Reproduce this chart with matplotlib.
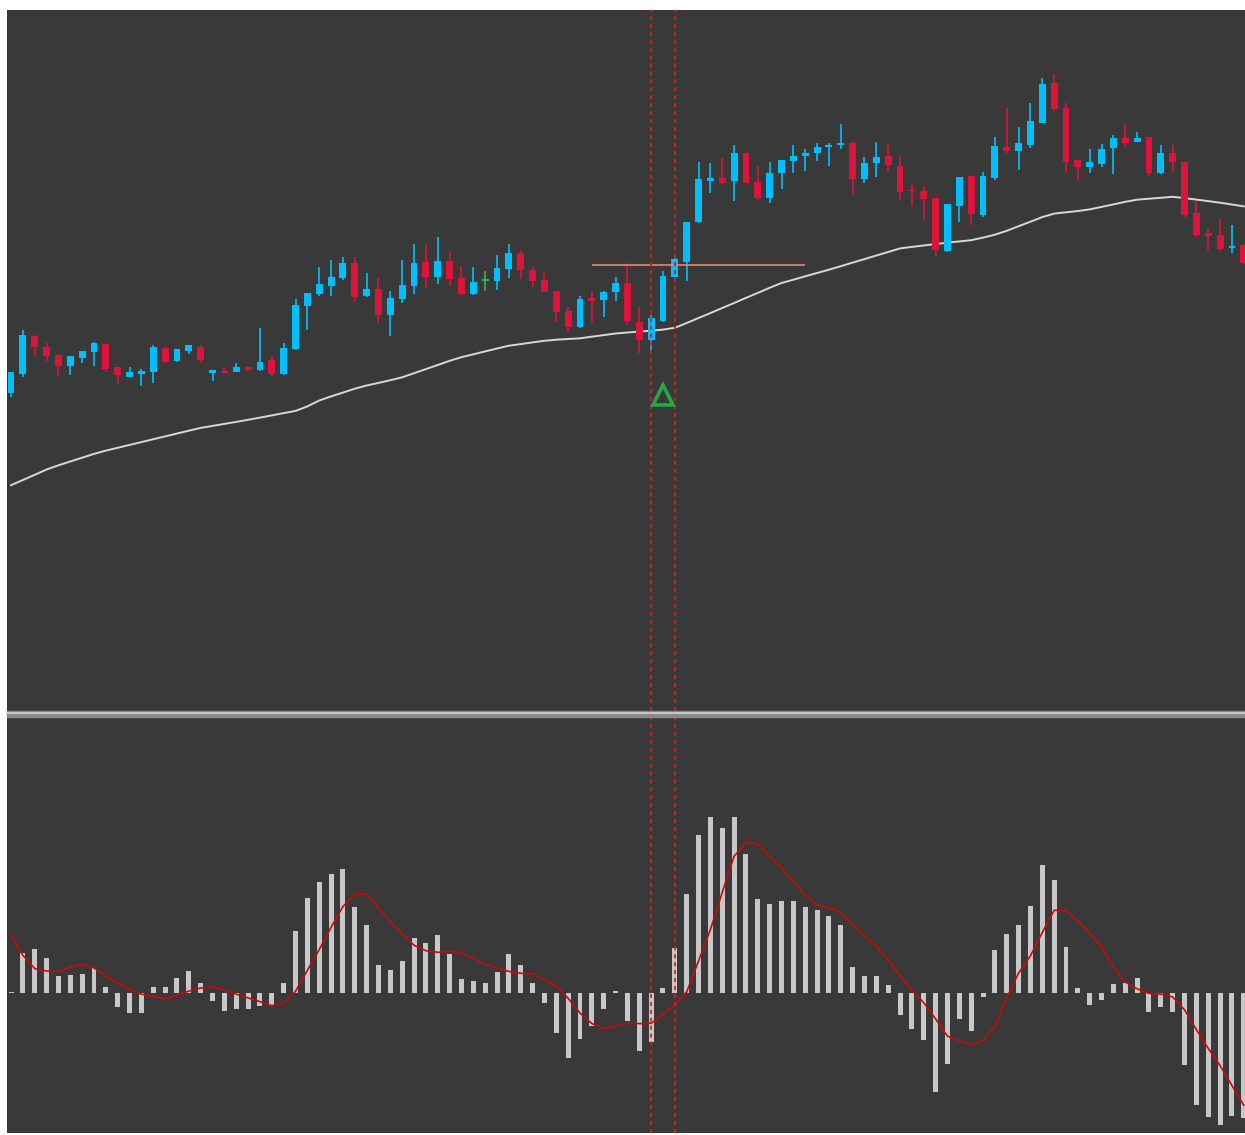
import matplotlib
matplotlib.use('Agg')
import matplotlib.pyplot as plt
from matplotlib.patches import Rectangle
from matplotlib.lines import Line2D
import numpy as np

# price panel (arbitrary price units)
opens = [327.3, 346, 384.3, 373.3, 365, 354.3, 361.7, 367.7, 376, 352.7,
         343.3, 346, 347.7, 372.3, 359.3, 369, 373.3, 346.7, 349.3, 348.3,
         352.7, 350, 360, 346, 370.7, 414, 426, 434.3, 441.7, 456.7,
         424, 431, 405, 420.7, 434.3, 458.3, 443.3, 459.3, 441.7, 425.7,
         439.3, 439, 451, 467.3, 450, 440, 429.3, 409, 392.7, 422.3,
         420, 428.3, 437.3, 398.3, 380, 399, 443.3, 458.3, 498, 539.3,
         542.3, 539, 567.3, 538.3, 522.3, 546.7, 559.3, 564, 566.7, 573.3,
         575.3, 576.7, 540.7, 556.7, 564.3, 554.3, 529.7, 529, 521.7, 469.3,
         514.3, 544, 505, 541.7, 573.3, 569.3, 575, 597.3, 636.7, 612.3,
         560, 553.3, 556, 571.7, 582.3, 578.3, 582.7, 546.7, 567.3, 558.3,
         506.7, 486.7, 485, 471.7, 475]
highs = [348, 390, 385, 377.3, 366, 364.5, 369.5, 378, 376.5, 353,
         352.7, 350.7, 374.7, 373.3, 371, 375.5, 374.7, 350, 352.3, 356.7,
         354, 391.7, 364.3, 377.3, 420.7, 427, 453.3, 460, 462.7, 463.3,
         447.3, 441.7, 429.3, 460, 475.7, 475.7, 483.3, 469.3, 454.3, 453.3,
         449, 465, 475.7, 470, 453.3, 447.3, 429.5, 412.7, 424, 429.3,
         429.3, 443.3, 456.7, 413.3, 405, 449.3, 465, 498.5, 558.3, 557.3,
         561.7, 575, 567.5, 554, 558.3, 560.2, 575, 570.7, 576.7, 576.7,
         595.7, 579.3, 563.3, 577.7, 576.7, 564.3, 536.7, 534, 522, 516,
         543, 544.2, 548.3, 583.3, 611.7, 593.3, 617.3, 641.7, 646, 617.3,
         560.2, 570.7, 575.7, 585, 595.7, 588.3, 583, 575, 575, 558.5,
         519.3, 491.7, 500.7, 495, 476]
lows = [323.3, 343.3, 364, 359, 344, 344.7, 356.7, 354, 348.3, 336,
        342.7, 334, 337.3, 357.3, 358.3, 366, 356.7, 339, 346, 347.7,
        349.3, 349.5, 344, 345.5, 370.5, 390, 424, 424, 440, 418.3,
        423.5, 397.3, 384, 416.7, 426, 431.7, 435.7, 434.3, 425.5, 425.5,
        429.3, 430, 441.7, 440.7, 433.3, 428, 397.7, 388.3, 392.5, 398.3,
        403.3, 419.5, 395, 366.7, 368.3, 398.5, 443, 439.3, 497, 526.7,
        536.5, 519.3, 537, 520, 516.7, 531, 546.7, 549, 559.3, 554,
        570.7, 525, 537.3, 543.3, 548.3, 520, 514.5, 500, 464, 468.5,
        498.3, 495, 503.3, 540, 566.7, 550, 571.7, 597, 610.5, 546.7,
        539.3, 546.7, 553.3, 546, 572.7, 578, 544.3, 546.5, 548.3, 503.3,
        483.3, 470, 469.3, 466.7, 456]
closes = [347.7, 385, 372.7, 364.3, 354.3, 364, 369, 376.7, 351, 345,
          347.7, 349.3, 372.7, 358.3, 370.7, 375, 360, 349.7, 346.7, 352.7,
          350, 358.3, 346, 372.3, 415, 426.7, 435.7, 442.7, 456.7, 422.7,
          431, 405, 422.3, 435, 456.7, 442.7, 459.3, 440.7, 425.7, 438.3,
          439.3, 451.7, 466.7, 450, 439, 428.3, 407.7, 392.7, 420.7, 419.3,
          428.3, 437, 399, 380, 401.7, 444.3, 460.7, 498, 540.7, 542,
          536.7, 567.3, 537.3, 521.7, 547.3, 560, 564.3, 567.3, 573.3, 575.3,
          576.7, 540.7, 556.7, 563.3, 555, 528.3, 528.7, 521.2, 470, 515.7,
          542.7, 506, 544, 574, 569.3, 576.7, 599, 636, 610.7, 557.7,
          553.3, 558.3, 570.7, 582.3, 577.3, 582.3, 546.7, 567.3, 558.3, 505,
          485, 484.3, 470.7, 474.3, 456.7]
moving_avg = [234.8, 240.0, 245.2, 250.5, 254.7, 258.5, 262.3, 266.1, 269.4, 272.2,
              275.1, 277.9, 280.8, 283.6, 286.5, 289.3, 292.1, 294.1, 296.1, 298.1,
              300.2, 302.4, 304.6, 306.9, 309.1, 313.6, 319.5, 323.6, 327.4, 331.3,
              334.5, 337.1, 339.8, 342.7, 346.8, 350.9, 355.0, 359.2, 362.8, 365.7,
              368.6, 371.5, 374.3, 375.9, 377.6, 379.2, 380.3, 381.0, 381.7, 383.3,
              384.9, 386.5, 387.5, 388.4, 389.3, 390.4, 392.2, 397.0, 402.0, 406.9,
              412.0, 417.0, 422.1, 427.1, 432.2, 437.0, 440.3, 443.7, 447.0, 450.3,
              453.8, 457.4, 460.9, 464.5, 468.0, 471.6, 473.1, 474.5, 475.9, 477.3,
              478.6, 479.8, 482.4, 485.3, 489.2, 493.8, 498.3, 502.9, 506.4, 507.7,
              509.0, 510.6, 513.1, 515.6, 518.2, 520.3, 521.3, 522.2, 523.2, 521.9,
              520.4, 518.9, 517.3, 515.5, 513.6]

# oscillator panel
macd_hist = [1.5, 40, 44, 35.6, 17.7, 18, 19, 25.7, 6.3, -13.3,
             -19.3, -19.3, 6.3, 6.3, 15.7, 22.3, 10, -7.3, -17.7, -16,
             -16, -12.7, -12.3, 10, 62.3, 95, 111, 119, 124.7, 86,
             68.3, 28.3, 23.3, 32.7, 55, 50.7, 58, 39, 14, 12,
             10, 21.3, 39, 28.3, 10.7, -10, -40, -65, -46, -32.7,
             -16, 2.7, -27.7, -58, -48.3, 5.7, 45.7, 99, 158.3, 176,
             165.7, 176, 139, 94.3, 89, 92.3, 92.3, 86, 83.3, 77,
             68.3, 26.7, 17.7, 17.7, 8.3, -22, -35.5, -46.7, -98.7, -70.3,
             -26, -38, -3.7, 43, 59.7, 68.3, 87.7, 128.3, 113, 46.3,
             5, -11.3, -6.7, 9.3, 10.7, 15.7, -18.7, -13.7, -18.7, -72,
             -112, -123.7, -131.3, -122.7, -124.3]
macd_signal = [58, 38, 24.7, 22.3, 21.7, 26, 28.9, 25.3, 17.3, 9.8,
               4, -0.9, -3.2, -5.4, -2, 2.2, 5.3, 6.9, 3, -0.9,
               -4.6, -8.4, -12.3, -9.8, 2, 23, 43.7, 66, 86.8, 99,
               99, 85.2, 71.5, 59.5, 48, 42.6, 41, 41.8, 40, 35,
               29.2, 25.2, 21.9, 20, 19.3, 14, 7, -5, -19.8, -30.3,
               -35.2, -32.5, -30, -30.3, -30, -21.2, -11.2, 1.4, 32.4, 63.7,
               101, 137, 151, 149.2, 137.3, 125.3, 111.8, 98.3, 88.3, 85.7,
               80.5, 69, 57.8, 47, 33.6, 17.3, 2.8, -9.4, -25.6, -42.9,
               -47.6, -51.8, -46.7, -33.6, -4.5, 20.3, 37.5, 60.8, 83, 82.4,
               72.3, 60, 46.9, 26.1, 11.3, 4.5, -0.1, -0.8, -3.7, -16.5,
               -36.3, -55.1, -72.3, -92.2, -112]

# annotations
signal_bar = 55
signal_price = 325.5
level_price = 455.5
level_from, level_to = 49, 67
marked_bars = [54, 56]

BG = '#393939'
BULL = '#00bfff'
BEAR = '#dc143c'
DOJI = '#2db84a'

W, H = 1245, 1135
fig = plt.figure(figsize=(W / 100, H / 100), dpi=100, facecolor='white')
left = 7 / W
ax = fig.add_axes([left, 1 - 711 / H, 1 - left, (711 - 10) / H])
ax2 = fig.add_axes([left, 1 - 1133 / H, 1 - left, (1133 - 717) / H])

# separator between the two panels
fig.patches.append(Rectangle((left, 1 - 717 / H), 1 - left, 6 / H,
                             transform=fig.transFigure, color='#8a8a8a', zorder=0))
fig.lines.append(Line2D([left, 1], [1 - 712.5 / H] * 2, transform=fig.transFigure,
                        color='#d4d4d4', lw=1.2))

x = np.arange(len(opens))
o = np.array(opens)
c = np.array(closes)
colors = [DOJI if oo == cc else (BULL if cc > oo else BEAR) for oo, cc in zip(o, c)]
body_low = np.minimum(o, c)
body_h = np.maximum(np.abs(c - o), 1.3)

for a in (ax, ax2):
    a.set_facecolor(BG)
    a.set_xlim(-0.34, 104.1)
    a.set_xticks([])
    a.set_yticks([])
    for s in a.spines.values():
        s.set_visible(False)
    for b in marked_bars:
        a.axvline(b, color='#e01c1c', lw=1.3, ls=(0, (2.2, 2.2)), zorder=5)

ax.set_ylim(9, 710)
ax.plot(x, moving_avg, color='#d8d8d8', lw=1.4, zorder=2)
ax.vlines(x, lows, highs, colors=colors, lw=1.2, zorder=3)
ax.bar(x, body_h, bottom=body_low, width=0.58, color=colors, zorder=4)
ax.hlines(level_price, level_from, level_to, color='#e8847c', lw=1.2, zorder=4)
ax.plot(signal_bar, signal_price, marker='^', ms=15, mfc='none', mec='#22aa44', mew=2.6, zorder=6)

ax2.set_ylim(-139.7, 276.3)
ax2.bar(x, macd_hist, width=0.42, color='#c8c8c8', zorder=2)
ax2.plot(x, macd_signal, color='#c80a0a', lw=1.2, zorder=3)

fig.savefig('out.png', dpi=100, facecolor='white')
